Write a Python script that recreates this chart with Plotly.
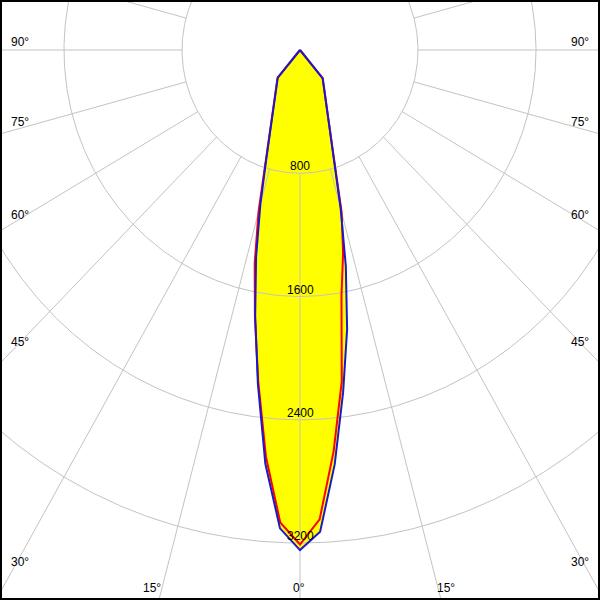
import numpy as np
import plotly.graph_objects as go

# ---- data (intensities) ----
angles = [0, 2.5, 5, 7.5, 10, 12.5, 15, 17.5, 20, 22.5, 25, 27.5, 30, 32.5, 35, 37.5, 40, 45]
c0_vals = [3246, 3130, 2700, 2240, 1840, 1435, 1065, 776, 611, 505, 431, 377, 336, 303, 277, 256, 240, 0]
c180_vals = [3246, 3108, 2696, 2187, 1750, 1375, 1038, 776, 611, 504, 430, 376, 334, 301, 275, 253, 235, 0]
c90_vals = [3210, 3050, 2615, 2170, 1620, 1350, 1090, 790, 615, 505, 431, 377, 336, 303, 277, 256, 238, 0]
c270_vals = [3210, 3070, 2650, 2170, 1760, 1420, 1085, 800, 620, 508, 432, 378, 336, 303, 277, 255, 236, 0]

ring_values = [800, 1600, 2400, 3200]
ring_labels = ["800", "1600", "2400", "3200"]
spoke_angles = list(range(0, 360, 15))
side_label_angles = [90, 75, 60, 45, 30]
bottom_label_angles = [-15, 0, 15]

# ---- geometry of the drawing ----
W, H = 600, 600
CX, CY = 300, 50              # pole position in pixels
KX = 800 / 118.0              # cd per pixel horizontally
KY = 800 / 123.25             # cd per pixel vertically
R_INNER = ring_values[0]

GRID = "#c3c3c3"
FONT = dict(family="Liberation Sans, Arial, sans-serif", size=12, color="black")


def polygon(left_vals, right_vals):
    a = np.radians(np.array(angles, dtype=float))
    l = np.array(left_vals, dtype=float)
    r = np.array(right_vals, dtype=float)
    xl, yl = -l * np.sin(a), -l * np.cos(a)
    xr, yr = r * np.sin(a), -r * np.cos(a)
    x = np.concatenate([xl[::-1], xr])
    y = np.concatenate([yl[::-1], yr])
    return x, y


bx, by = polygon(c180_vals, c0_vals)
rx, ry = polygon(c270_vals, c90_vals)

fig = go.Figure()

# fills
for x, y in [(rx, ry), (bx, by)]:
    fig.add_trace(go.Scatter(x=x, y=y, mode="lines", fill="toself",
                             fillcolor="#ffff00", line=dict(width=0, color="#ffff00"),
                             hoverinfo="skip", showlegend=False))

# rings
t = np.linspace(0, 2 * np.pi, 721)
gx, gy = [], []
for v in ring_values:
    gx += list(v * np.sin(t)) + [None]
    gy += list(-v * np.cos(t)) + [None]
# spokes
for a in spoke_angles:
    ar = np.radians(a)
    gx += [R_INNER * np.sin(ar), 12000 * np.sin(ar), None]
    gy += [-R_INNER * np.cos(ar), -12000 * np.cos(ar), None]
fig.add_trace(go.Scatter(x=gx, y=gy, mode="lines", line=dict(color=GRID, width=1),
                         hoverinfo="skip", showlegend=False))

# curves
fig.add_trace(go.Scatter(x=rx, y=ry, mode="lines", line=dict(color="#ff0000", width=2),
                         hoverinfo="skip", showlegend=False))
fig.add_trace(go.Scatter(x=bx, y=by, mode="lines", line=dict(color="#1a1acc", width=2),
                         hoverinfo="skip", showlegend=False))

ann = []
for v, s in zip(ring_values, ring_labels):
    ann.append(dict(x=0, y=-v, xref="x", yref="y", text=s, showarrow=False,
                    yshift=7, font=FONT, xanchor="center", yanchor="middle"))

for a in side_label_angles:
    ar = np.radians(a)
    ypx = CY + CX * np.cos(ar) / np.sin(ar) - 8
    ann.append(dict(x=9 / W, y=1 - ypx / H, xref="paper", yref="paper", text=f"{a}°",
                    showarrow=False, font=FONT, xanchor="left", yanchor="middle"))
    ann.append(dict(x=591 / W, y=1 - ypx / H, xref="paper", yref="paper", text=f"{a}°",
                    showarrow=False, font=FONT, xanchor="right", yanchor="middle"))

for a in bottom_label_angles:
    xpx = CX + (H - CY) * np.tan(np.radians(a)) - 1
    ann.append(dict(x=xpx / W, y=1 - 588 / H, xref="paper", yref="paper", text=f"{abs(a)}°",
                    showarrow=False, font=FONT, xanchor="center", yanchor="middle"))

fig.update_layout(
    width=W, height=H, margin=dict(l=0, r=0, t=0, b=0, pad=0),
    paper_bgcolor="white", plot_bgcolor="white",
    xaxis=dict(range=[-CX * KX, (W - CX) * KX], visible=False, fixedrange=True),
    yaxis=dict(range=[-(H - CY) * KY, CY * KY], visible=False, fixedrange=True),
    annotations=ann,
    shapes=[dict(type="rect", xref="paper", yref="paper", x0=0, y0=0, x1=1, y1=1,
                 line=dict(color="black", width=4), layer="above")],
    showlegend=False,
)

fig.write_html("out.html", config={"displayModeBar": False, "staticPlot": True},
               post_script="document.body.style.margin='0';document.body.style.padding='0';document.body.style.overflow='hidden';")
